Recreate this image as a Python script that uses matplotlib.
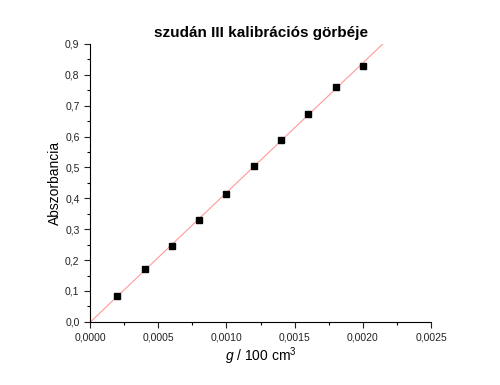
import numpy as np
import matplotlib
matplotlib.use("Agg")
import matplotlib.pyplot as plt
from matplotlib.ticker import FuncFormatter, MultipleLocator

plt.rcParams['font.family'] = ['Liberation Sans', 'DejaVu Sans']
plt.rcParams['mathtext.fontset'] = 'custom'
plt.rcParams['mathtext.rm'] = 'Liberation Sans'
plt.rcParams['mathtext.it'] = 'Liberation Sans:italic'

# Data

conc = [0.0002, 0.0004, 0.0006, 0.0008, 0.0010,
        0.0012, 0.0014, 0.0016, 0.0018, 0.0020]

absorbance = [0.084, 0.170, 0.245, 0.330, 0.415,
              0.505, 0.589, 0.674, 0.760, 0.830]

# Linear fit

slope, intercept = np.polyfit(conc, absorbance, 1)
x_end = (0.9 - intercept) / slope
x_fit = np.array([0.0, x_end])
y_fit = slope * x_fit + intercept

# Plot

fig = plt.figure(figsize=(5, 3.85), dpi=100)
ax = fig.add_axes([0.18, 0.164, 0.682, 0.722])

ax.plot(x_fit, y_fit, color="#ff9999", linewidth=0.8)
ax.plot(conc, absorbance, "s", color="black", markersize=4)

ax.set_xlim(0, 0.0025)
ax.set_ylim(0, 0.9)

ax.xaxis.set_major_locator(MultipleLocator(0.0005))
ax.xaxis.set_minor_locator(MultipleLocator(0.00025))
ax.yaxis.set_major_locator(MultipleLocator(0.1))
ax.yaxis.set_minor_locator(MultipleLocator(0.05))

ax.xaxis.set_major_formatter(
    FuncFormatter(lambda v, p: f"{v:.4f}".replace(".", ","))
)
ax.yaxis.set_major_formatter(
    FuncFormatter(lambda v, p: f"{v:.1f}".replace(".", ","))
)

ax.spines["top"].set_visible(False)
ax.spines["right"].set_visible(False)

ax.tick_params(which="major", direction="out", length=4, width=0.8,
               labelsize=7.5, colors="#222222")
ax.tick_params(which="minor", direction="out", length=2, width=0.8)

ax.set_title("szudán III kalibrációs görbéje",
             fontsize=11, fontweight="bold", pad=5)
ax.set_ylabel("Abszorbancia", fontsize=10, labelpad=2)
ax.set_xlabel(r"$g$ / 100 cm$^3$", fontsize=10, labelpad=2)

fig.savefig("out.png", dpi=100)
